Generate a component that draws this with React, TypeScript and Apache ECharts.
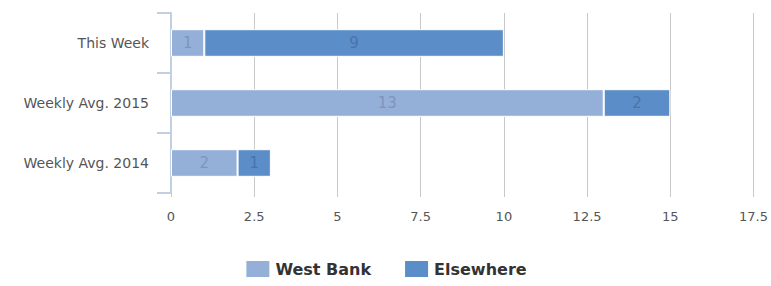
import React, { useEffect, useRef } from "react";
import * as echarts from "echarts";

const categories = ["Weekly Avg. 2014", "Weekly Avg. 2015", "This Week"];
const westBank = [2, 13, 1];
const elsewhere = [1, 2, 9];
const xTicks = [0, 2.5, 5, 7.5, 10, 12.5, 15, 17.5];

export default function App() {
  const ref = useRef<HTMLDivElement>(null);
  useEffect(() => {
    const chart = echarts.init(ref.current!, null, { renderer: "svg" });
    const font = "'DejaVu Sans', 'Open Sans', sans-serif";
    chart.setOption({
      animation: false,
      textStyle: { fontFamily: font },
      grid: { left: 171, right: 17, top: 13, bottom: 93, containLabel: false },
      xAxis: {
        type: "value",
        min: xTicks[0],
        max: xTicks[xTicks.length - 1],
        interval: 2.5,
        axisLine: { show: false },
        axisTick: { show: true, length: 4, lineStyle: { color: "#c8c8c8" } },
        splitLine: { show: true, lineStyle: { color: "#c8c8c8", width: 1 } },
        axisLabel: {
          color: "#555",
          fontSize: 13,
          margin: 17,
          fontFamily: font,
          formatter: (v: number) => String(v),
        },
      },
      yAxis: {
        type: "category",
        data: categories,
        axisLine: { show: true, lineStyle: { color: "#c0d0e0", width: 2 } },
        axisTick: { show: true, length: 14, lineStyle: { color: "#c0d0e0", width: 2 } },
        axisLabel: { color: "#555", fontSize: 14, margin: 22, fontFamily: font },
        splitLine: { show: false },
      },
      legend: {
        bottom: 2,
        left: "center",
        itemWidth: 25,
        itemHeight: 18,
        itemGap: 32,
        icon: "rect",
        textStyle: { color: "#333", fontSize: 16, fontWeight: "bold", fontFamily: font },
        data: ["West Bank", "Elsewhere"],
      },
      series: [
        {
          name: "West Bank",
          type: "bar",
          stack: "total",
          data: westBank,
          barWidth: "46%",
          itemStyle: { color: "#94b0d8", borderColor: "#ffffff", borderWidth: 1 },
          label: { show: true, position: "inside", color: "#7d95b9", fontSize: 15, fontFamily: font },
        },
        {
          name: "Elsewhere",
          type: "bar",
          stack: "total",
          data: elsewhere,
          itemStyle: { color: "#5b8ec9", borderColor: "#ffffff", borderWidth: 1 },
          label: { show: true, position: "inside", color: "#4a73aa", fontSize: 15, fontFamily: font },
        },
      ],
    });
    return () => chart.dispose();
  }, []);
  return <div ref={ref} style={{ width: 771, height: 286, position: "absolute", left: 0, top: 0 }} />;
}
